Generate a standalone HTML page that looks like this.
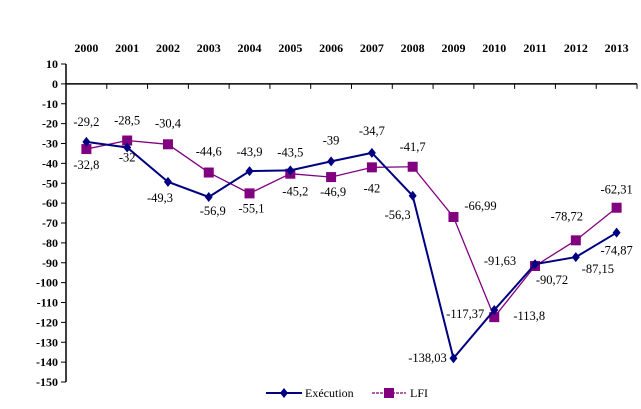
<!DOCTYPE html>
<html><head><meta charset="utf-8"><style>
html,body{margin:0;padding:0;background:#fff;}
svg{display:block;}
svg text{font-family:"Liberation Serif","Times New Roman",serif;}
</style></head><body>
<svg id="chart" width="641" height="409" viewBox="0 0 641 409" font-family="Liberation Serif, serif"></svg>
<script>
const years = ["2000","2001","2002","2003","2004","2005","2006","2007","2008","2009","2010","2011","2012","2013"];
const execValues = [-29.2,-32,-49.3,-56.9,-43.9,-43.5,-39,-34.7,-56.3,-138.03,-113.8,-90.72,-87.15,-74.87];
const lfiValues = [-32.8,-28.5,-30.4,-44.6,-55.1,-45.2,-46.9,-42,-41.7,-66.99,-117.37,-91.63,-78.72,-62.31];
const execLabels = ["-29,2","-32","-49,3","-56,9","-43,9","-43,5","-39","-34,7","-56,3","-138,03","-113,8","-90,72","-87,15","-74,87"];
const lfiLabels = ["-32,8","-28,5","-30,4","-44,6","-55,1","-45,2","-46,9","-42","-41,7","-66,99","-117,37","-91,63","-78,72","-62,31"];
const yTicks = [10,0,-10,-20,-30,-40,-50,-60,-70,-80,-90,-100,-110,-120,-130,-140,-150];
const execOff = [[0,-20],[0,10],[-8,16],[4,14],[0,-19],[0,-18],[0,-21],[0,-22],[-15,19],[-26,0],[35,6],[17,16],[22,12],[0,18]];
const lfiOff = [[0,16],[0,-20],[0,-21],[0,-21],[2,15],[5,18],[2,15],[0,21],[0,-20],[27,-11],[-29,-3],[-35,-5],[-9,-24],[0,-18]];

const NS="http://www.w3.org/2000/svg";
const svg=document.getElementById('chart');
const X0=66, X1=637, Ytop=64, Ybot=382;
const bw=(X1-X0)/years.length;
function xs(i){return X0+bw*(i+0.5);}
function ys(v){return Ytop+(10-v)/160*(Ybot-Ytop);}
function mk(tag,attrs,parent){const e=document.createElementNS(NS,tag);for(const k in attrs)e.setAttribute(k,attrs[k]);(parent||svg).appendChild(e);return e;}

const ya=mk('g',{});


mk('line',{x1:X0,y1:Ytop,x2:X0,y2:Ybot,stroke:'#000','stroke-width':1.5},ya);
yTicks.forEach(v=>{
  mk('line',{x1:X0-5,y1:ys(v),x2:X0,y2:ys(v),stroke:'#000','stroke-width':1},ya);
  const t=mk('text',{x:X0-8,y:ys(v)+4,'text-anchor':'end','font-size':12,'font-weight':'bold'},ya);
  t.textContent=v;
  
  
});
const xa=mk('g',{});


mk('line',{x1:X0,y1:ys(0),x2:X1,y2:ys(0),stroke:'#000','stroke-width':1.5},xa);
for(let i=1;i<=years.length;i++) mk('line',{x1:X0+bw*i,y1:ys(0),x2:X0+bw*i,y2:ys(0)+5,stroke:'#000','stroke-width':1},xa);
years.forEach((y,i)=>{
  const t=mk('text',{x:xs(i),y:52,'text-anchor':'middle','font-size':12,'font-weight':'bold'},xa);
  t.textContent=y;
  
  
});

function diamond(cx,cy,g,c){mk('path',{d:`M${cx} ${cy-5}L${cx+4} ${cy}L${cx} ${cy+5}L${cx-4} ${cy}Z`,fill:c},g);}
function square(cx,cy,g,c){mk('rect',{x:cx-5,y:cy-5,width:10,height:10,fill:c},g);}

const gl=mk('g',{});


mk('polyline',{points:lfiValues.map((v,i)=>xs(i)+','+ys(v)).join(' '),fill:'none',stroke:'#800080','stroke-width':1.3},gl);
lfiValues.forEach((v,i)=>square(xs(i),ys(v),gl,'#800080'));
const ge=mk('g',{});


mk('polyline',{points:execValues.map((v,i)=>xs(i)+','+ys(v)).join(' '),fill:'none',stroke:'#000080','stroke-width':2},ge);
execValues.forEach((v,i)=>diamond(xs(i),ys(v),ge,'#000080'));

execValues.forEach((v,i)=>{
  const t=mk('text',{x:xs(i)+execOff[i][0],y:ys(v)+execOff[i][1]+4,'text-anchor':'middle','font-size':12.5});
  t.textContent=execLabels[i];
  
  
});
lfiValues.forEach((v,i)=>{
  const t=mk('text',{x:xs(i)+lfiOff[i][0],y:ys(v)+lfiOff[i][1]+4,'text-anchor':'middle','font-size':12.5});
  t.textContent=lfiLabels[i];
  
  
});

const lg=mk('g',{});


mk('line',{x1:266,y1:393,x2:302,y2:393,stroke:'#000080','stroke-width':2},lg);
diamond(284,393,lg,'#000080');
const t1=mk('text',{x:305,y:397,'font-size':12},lg);t1.textContent='Exécution';


mk('line',{x1:372,y1:393,x2:406,y2:393,stroke:'#800080','stroke-width':1.3,'stroke-dasharray':'3,1'},lg);
square(389,393,lg,'#800080');
const t2=mk('text',{x:410,y:397,'font-size':12},lg);t2.textContent='LFI';


</script>
</body></html>
